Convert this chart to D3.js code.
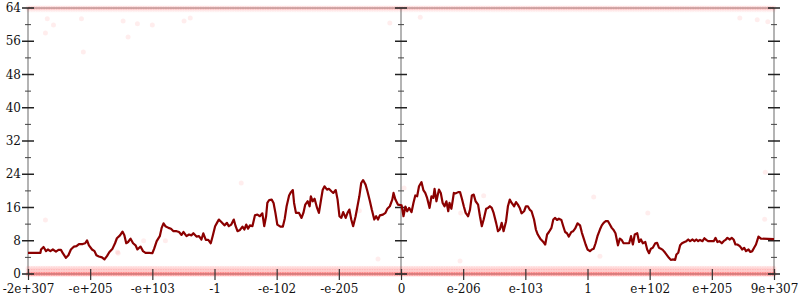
<!DOCTYPE html>
<html>
<head>
<meta charset="utf-8">
<script src="https://cdn.jsdelivr.net/npm/d3@7"></script>
<style>
  body { margin: 0; background: #fff; }
  text { font-family: "DejaVu Serif", serif; font-size: 12px; fill: #111; }
</style>
</head>
<body>
<div id="chart"></div>
<script>
// x is measured in tick steps: -6 .. 6, one step per label
const X_TICK_LABELS = ["-2e+307", "-e+205", "-e+103", "-1", "-e-102", "-e-205", "0",
                       "e-206", "e-103", "1", "e+102", "e+205", "9e+307"];
const Y_MAJOR = [0, 8, 16, 24, 32, 40, 48, 56, 64];
const Y_MINOR = [4, 12, 20, 28, 36, 44, 52, 60];

// running profile, [x step, value]
const profile = [
  [-6.00, 5.1], [-5.80, 5.1], [-5.79, 5.9], [-5.75, 6.5], [-5.71, 5.5], [-5.68, 5.9],
  [-5.64, 5.5], [-5.60, 5.9], [-5.55, 5.4], [-5.51, 5.8], [-5.47, 5.8], [-5.44, 5.0],
  [-5.39, 3.9], [-5.35, 4.5], [-5.31, 5.9], [-5.26, 6.6], [-5.22, 6.7], [-5.18, 7.2],
  [-5.12, 7.2], [-5.08, 7.4], [-5.05, 8.1], [-5.02, 6.9], [-4.97, 5.9], [-4.93, 5.5],
  [-4.90, 4.5], [-4.86, 4.2], [-4.81, 4.0], [-4.77, 3.5], [-4.73, 4.3], [-4.69, 5.3],
  [-4.64, 6.1], [-4.60, 7.4], [-4.57, 8.6], [-4.52, 9.3], [-4.48, 10.2], [-4.45, 9.3],
  [-4.42, 7.4], [-4.39, 7.7], [-4.35, 8.5], [-4.31, 7.4], [-4.27, 6.9], [-4.24, 5.9],
  [-4.19, 6.6], [-4.15, 5.5], [-4.11, 5.1], [-4.05, 5.1], [-4.00, 5.0], [-3.97, 6.1],
  [-3.93, 7.9], [-3.88, 9.1], [-3.85, 11.1], [-3.82, 12.2], [-3.79, 11.5], [-3.74, 11.1],
  [-3.70, 10.9], [-3.66, 10.3], [-3.61, 10.3], [-3.57, 10.1], [-3.53, 9.4], [-3.50, 10.1],
  [-3.45, 9.1], [-3.41, 9.5], [-3.37, 9.3], [-3.34, 9.8], [-3.29, 9.0], [-3.25, 9.1],
  [-3.21, 8.3], [-3.18, 9.8], [-3.14, 8.2], [-3.10, 8.2], [-3.06, 7.4], [-3.03, 9.1],
  [-2.99, 11.5], [-2.96, 12.3], [-2.93, 13.1], [-2.89, 12.5], [-2.84, 11.7], [-2.80, 12.3],
  [-2.77, 11.5], [-2.73, 11.9], [-2.69, 13.1], [-2.66, 11.5], [-2.63, 10.3], [-2.59, 10.6],
  [-2.55, 11.4], [-2.52, 10.7], [-2.49, 11.9], [-2.46, 10.9], [-2.43, 11.7], [-2.39, 11.5],
  [-2.35, 14.1], [-2.31, 14.3], [-2.27, 13.9], [-2.23, 14.6], [-2.20, 11.5], [-2.17, 13.9],
  [-2.15, 17.1], [-2.12, 17.8], [-2.08, 17.9], [-2.05, 17.1], [-2.02, 14.7], [-1.99, 11.9],
  [-1.94, 11.4], [-1.90, 11.4], [-1.87, 13.3], [-1.84, 16.3], [-1.80, 18.9], [-1.77, 19.7],
  [-1.74, 20.2], [-1.72, 17.1], [-1.69, 14.7], [-1.64, 14.7], [-1.60, 13.5], [-1.57, 14.7],
  [-1.54, 16.7], [-1.50, 17.5], [-1.47, 16.3], [-1.45, 18.7], [-1.42, 17.5], [-1.39, 18.1],
  [-1.35, 15.9], [-1.32, 14.7], [-1.29, 17.5], [-1.26, 20.2], [-1.23, 21.1], [-1.19, 20.3],
  [-1.16, 20.5], [-1.12, 19.9], [-1.09, 19.5], [-1.05, 20.2], [-1.02, 17.9], [-0.99, 13.9],
  [-0.96, 13.5], [-0.93, 14.9], [-0.89, 13.5], [-0.86, 14.7], [-0.83, 15.5], [-0.80, 13.1],
  [-0.77, 11.5], [-0.73, 13.9], [-0.70, 16.3], [-0.67, 18.7], [-0.64, 21.9], [-0.61, 22.6],
  [-0.57, 21.5], [-0.54, 19.9], [-0.50, 17.5], [-0.47, 15.5], [-0.43, 13.1], [-0.40, 13.9],
  [-0.37, 13.1], [-0.34, 14.1], [-0.29, 14.3], [-0.25, 14.7], [-0.22, 15.7], [-0.18, 16.3],
  [-0.14, 17.9], [-0.12, 19.5], [-0.09, 17.9], [-0.05, 16.7], [0.01, 16.5], [0.04, 13.9],
  [0.07, 16.2], [0.10, 15.1], [0.13, 15.9], [0.17, 14.9], [0.20, 17.1], [0.23, 18.9],
  [0.26, 18.7], [0.29, 21.1], [0.33, 22.1], [0.36, 20.2], [0.39, 19.5], [0.42, 18.3],
  [0.46, 15.9], [0.49, 18.7], [0.52, 18.3], [0.54, 20.5], [0.57, 17.5], [0.61, 20.3],
  [0.64, 19.5], [0.67, 17.1], [0.70, 16.3], [0.73, 17.5], [0.76, 15.1], [0.78, 17.1],
  [0.81, 15.7], [0.83, 17.5], [0.85, 19.5], [0.88, 19.4], [0.92, 19.7], [0.95, 19.7],
  [0.98, 18.1], [1.01, 16.3], [1.04, 14.7], [1.08, 13.9], [1.11, 15.5], [1.14, 18.9],
  [1.17, 19.1], [1.20, 17.5], [1.24, 16.7], [1.27, 13.9], [1.30, 11.5], [1.33, 13.1],
  [1.37, 15.7], [1.40, 15.9], [1.43, 16.3], [1.46, 15.9], [1.49, 14.7], [1.53, 12.3],
  [1.56, 10.3], [1.59, 10.7], [1.62, 12.3], [1.65, 10.3], [1.69, 12.7], [1.72, 16.3],
  [1.75, 17.9], [1.78, 17.1], [1.82, 16.3], [1.85, 17.3], [1.88, 16.7], [1.91, 15.9],
  [1.94, 14.6], [1.98, 15.1], [2.01, 16.3], [2.04, 16.3], [2.07, 15.5], [2.10, 15.1],
  [2.14, 13.1], [2.17, 10.7], [2.20, 9.5], [2.24, 8.5], [2.29, 7.7], [2.32, 7.1],
  [2.35, 9.5], [2.38, 10.1], [2.42, 11.1], [2.45, 13.1], [2.48, 13.5], [2.51, 13.0],
  [2.54, 13.3], [2.58, 13.0], [2.61, 11.5], [2.64, 10.1], [2.67, 9.8], [2.70, 9.0],
  [2.74, 10.1], [2.77, 10.3], [2.80, 10.9], [2.84, 12.2], [2.88, 11.7], [2.91, 9.9],
  [2.94, 8.5], [2.97, 7.1], [3.00, 5.9], [3.04, 5.5], [3.07, 5.9], [3.10, 6.1],
  [3.13, 7.4], [3.16, 9.1], [3.20, 10.7], [3.23, 11.7], [3.26, 12.3], [3.29, 12.7],
  [3.33, 12.7], [3.36, 11.9], [3.39, 11.1], [3.42, 10.6], [3.45, 9.8], [3.49, 6.9],
  [3.52, 8.5], [3.55, 8.2], [3.58, 7.4], [3.63, 7.4], [3.67, 7.4], [3.70, 9.1],
  [3.73, 7.1], [3.76, 9.5], [3.80, 9.8], [3.83, 7.7], [3.86, 8.3], [3.89, 7.4],
  [3.93, 7.7], [3.96, 5.9], [3.99, 5.0], [4.02, 6.1], [4.05, 6.3], [4.09, 7.4],
  [4.12, 7.5], [4.15, 6.3], [4.18, 6.1], [4.21, 5.8], [4.25, 5.1], [4.28, 4.5],
  [4.31, 3.9], [4.34, 3.4], [4.37, 3.5], [4.41, 3.4], [4.43, 4.7], [4.46, 5.1],
  [4.49, 6.9], [4.52, 7.4], [4.56, 7.7], [4.59, 7.9], [4.62, 8.3], [4.65, 7.9],
  [4.69, 8.3], [4.72, 7.9], [4.75, 8.3], [4.78, 7.9], [4.81, 8.2], [4.85, 7.9],
  [4.88, 8.6], [4.91, 8.2], [4.94, 7.9], [4.99, 7.9], [5.03, 7.9], [5.06, 8.7],
  [5.09, 7.7], [5.12, 7.9], [5.16, 7.4], [5.19, 7.9], [5.22, 8.2], [5.25, 8.7],
  [5.29, 8.3], [5.32, 8.7], [5.35, 8.3], [5.38, 7.1], [5.41, 7.1], [5.45, 6.7],
  [5.49, 5.9], [5.52, 6.3], [5.55, 5.5], [5.59, 5.9], [5.62, 5.3], [5.65, 5.5],
  [5.68, 6.3], [5.71, 7.1], [5.75, 9.0], [5.79, 8.5], [6.00, 8.4]
];

// faint samples away from the two bands, [x step, value]
const strayDots = [
  [-5.69, 61.4], [-5.59, 59.9], [-5.72, 58.0], [-5.14, 61.4], [-5.11, 53.4], [-4.47, 60.9],
  [-4.39, 57.0], [-4.24, 60.2], [-4.00, 59.9], [-3.49, 60.9], [-3.39, 61.6], [-5.72, 13.0],
  [-4.56, 5.3], [-4.14, 8.0], [-3.79, 8.0], [-2.57, 21.9], [-4.55, 5.0], [-0.37, 3.6],
  [-0.67, 15.2], [0.05, 20.7], [1.33, 18.8], [3.10, 18.5], [5.85, 13.2], [0.95, 3.1],
  [3.20, 4.3], [3.97, 14.7], [5.86, 24.5], [0.96, 14.7], [-0.18, 60.4], [0.31, 61.8],
  [5.73, 61.2], [5.90, 60.7], [5.45, 61.6]
];

// the dense bands of samples at the bottom and top
const bandLevels = [0, 0.7, 1.4, 63.5, 64];

const margin = { top: 8, right: 26, bottom: 26, left: 28 },
      width  = 800 - margin.left - margin.right,
      height = 300 - margin.top - margin.bottom;

const svg = d3.select("#chart")
  .append("svg")
    .attr("width", 800)
    .attr("height", 300)
  .append("g")
    .attr("transform", `translate(${margin.left},${margin.top})`);

const x = d3.scaleLinear().domain([-6, 6]).range([0, width]);
const y = d3.scaleLinear().domain([0, 64]).range([height, 0]);

// ── frame lines (gray) ────────────────────────────────────────────────────
const gray = "#b4b4b4";
[0, 64].forEach(v => {
  svg.append("line")
    .attr("x1", 0).attr("x2", width)
    .attr("y1", y(v)).attr("y2", y(v))
    .attr("stroke", gray).attr("stroke-width", 1.5);
});
[-6, 0, 6].forEach(t => {
  svg.append("line")
    .attr("x1", x(t)).attr("x2", x(t))
    .attr("y1", 0).attr("y2", height)
    .attr("stroke", gray).attr("stroke-width", 2);
});

// ── faint samples ─────────────────────────────────────────────────────────
const dots = svg.append("g").attr("fill", "#ff0000");
const bandX = d3.range(-6, 6.0001, 0.04);
bandLevels.forEach(lv => {
  const a = lv === 0 ? 0.2 : lv === 64 ? 0.08 : lv === 63.5 ? 0.03 : 0.08;
  dots.selectAll(null)
    .data(bandX)
    .enter().append("circle")
      .attr("cx", d => x(d))
      .attr("cy", y(lv))
      .attr("r", 2.5)
      .attr("fill-opacity", a);
});
dots.selectAll(null)
  .data(strayDots)
  .enter().append("circle")
    .attr("cx", d => x(d[0]))
    .attr("cy", d => y(d[1]))
    .attr("r", 2.5)
    .attr("fill-opacity", 0.07);

// ── ticks on the three vertical axes ──────────────────────────────────────
[-6, 0, 6].forEach(t => {
  const g = svg.append("g");
  g.selectAll(null).data(Y_MAJOR).enter().append("line")
    .attr("x1", x(t) - 6).attr("x2", x(t) + 6)
    .attr("y1", d => y(d)).attr("y2", d => y(d))
    .attr("stroke", "#222").attr("stroke-width", 1.5);
  g.selectAll(null).data(Y_MINOR).enter().append("line")
    .attr("x1", x(t) - 3).attr("x2", x(t) + 3)
    .attr("y1", d => y(d)).attr("y2", d => y(d))
    .attr("stroke", "#444").attr("stroke-width", 1);
});

// y labels, left side only
svg.append("g").selectAll(null)
  .data(Y_MAJOR)
  .enter().append("text")
    .attr("x", -7)
    .attr("y", d => y(d))
    .attr("dy", "0.35em")
    .attr("text-anchor", "end")
    .text(d => d);

// ── x axis ────────────────────────────────────────────────────────────────
const xAxisG = svg.append("g")
  .attr("transform", `translate(0,${height})`)
  .call(d3.axisBottom(x)
    .tickValues(d3.range(-6, 7))
    .tickFormat(d => X_TICK_LABELS[d + 6])
    .tickSize(6)
    .tickPadding(4));
xAxisG.select("path.domain").remove();
xAxisG.selectAll(".tick line")
  .attr("y1", -5).attr("y2", 6)
  .attr("stroke", "#333").attr("stroke-width", 1.2);
xAxisG.selectAll(".tick text")
  .attr("font-family", null)
  .style("font-family", "'DejaVu Serif', serif")
  .style("font-size", "12px")
  .attr("fill", "#111");

// ── the profile line ──────────────────────────────────────────────────────
const line = d3.line().x(d => x(d[0])).y(d => y(d[1]));
svg.append("path")
  .datum(profile)
  .attr("fill", "none")
  .attr("stroke", "#8b0000")
  .attr("stroke-width", 2.2)
  .attr("stroke-linejoin", "round")
  .attr("d", line);
</script>
</body>
</html>
